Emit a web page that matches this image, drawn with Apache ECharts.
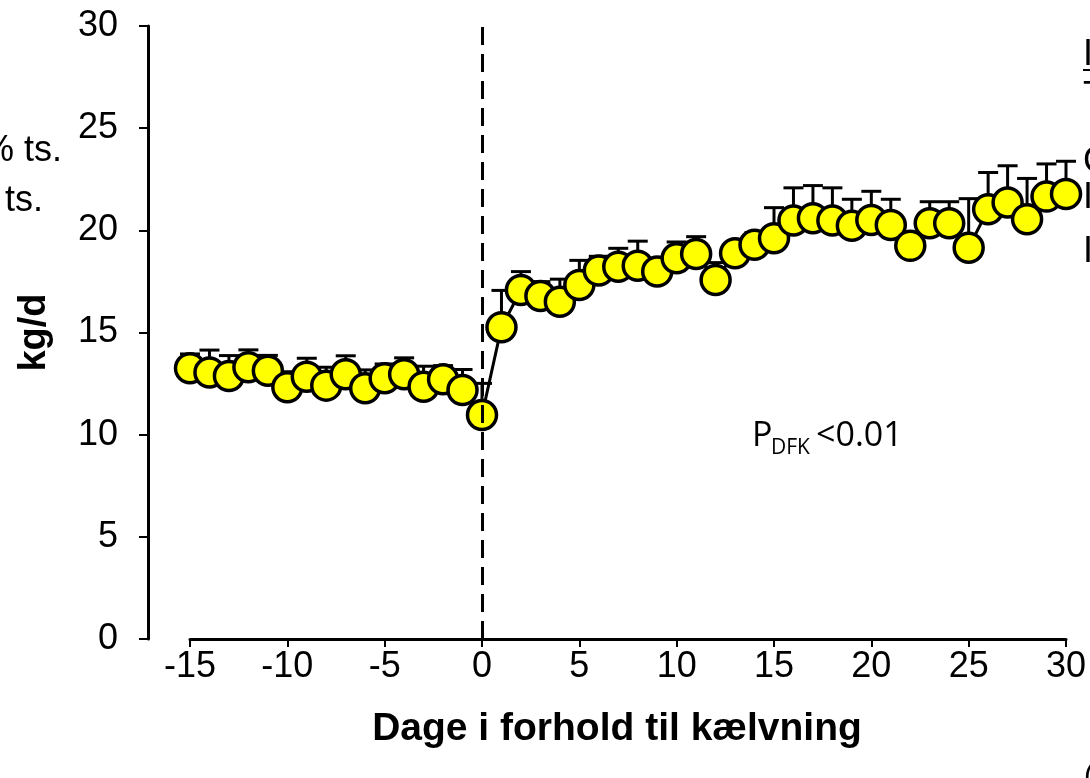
<!DOCTYPE html>
<html>
<head>
<meta charset="utf-8">
<script src="https://cdn.jsdelivr.net/npm/echarts@6/dist/echarts.min.js"></script>
<style>
html,body{margin:0;padding:0;background:#fff;}
#chart{width:1090px;height:778px;}
</style>
</head>
<body>
<div id="chart"></div>
<script>
// Days relative to calving
const days = [-15,-14,-13,-12,-11,-10,-9,-8,-7,-6,-5,-4,-3,-2,-1,0,1,2,3,4,5,6,7,8,9,10,11,12,13,14,15,16,17,18,19,20,21,22,23,24,25,26,27,28,29,30];
// Intake, kg/d
const intake = [13.25,13.04,12.87,13.3,13.13,12.32,12.84,12.4,12.96,12.27,12.76,12.96,12.35,12.71,12.19,10.96,15.26,17.08,16.79,16.51,17.33,18.03,18.22,18.27,17.98,18.63,18.84,17.57,18.88,19.29,19.61,20.48,20.59,20.48,20.22,20.51,20.26,19.24,20.35,20.35,19.15,21.03,21.36,20.54,21.65,21.78];
// Upper error (SE), kg/d
const errUp = [0.7,1.1,1.0,0.85,0.75,0.76,0.9,0.9,0.9,0.9,0.7,0.8,1.0,0.67,1.0,1.55,1.8,0.9,0.7,1.1,1.2,0.7,0.9,1.2,0.35,0.8,0.85,0.85,0.4,0.6,1.5,1.6,1.6,1.6,1.3,1.4,1.26,0.4,1.05,1.05,2.4,1.8,1.8,2.0,1.6,1.6];
const xTicks = {min:-15, max:30, interval:5};
const yTicks = {min:0, max:30, interval:5};
const xTitle = 'Dage i forhold til kælvning';
const yTitle = 'kg/d';

const lineData = days.map((d,i)=>[d, intake[i]]);
const errData = days.map((d,i)=>[d, intake[i], errUp[i]]);

const FONT = 'Liberation Sans, Arial, sans-serif';
const chart = echarts.init(document.getElementById('chart'), null, {renderer:'canvas'});
chart.setOption({
  animation:false,
  backgroundColor:'#ffffff',
  grid:{left:190, right:24, top:26, bottom:139, containLabel:false},
  xAxis:{
    type:'value', min:xTicks.min, max:xTicks.max, interval:xTicks.interval,
    axisLine:{show:true, onZero:false, lineStyle:{color:'#000', width:3}},
    axisTick:{show:true, inside:false, length:8, lineStyle:{color:'#000', width:2}},
    axisLabel:{color:'#000', fontSize:36, fontFamily:FONT, margin:10},
    splitLine:{show:false},
    name:xTitle, nameLocation:'middle', nameGap:71,
    nameTextStyle:{color:'#000', fontSize:39, fontWeight:'bold', fontFamily:FONT, padding:[0,22,0,0]}
  },
  yAxis:{
    type:'value', min:yTicks.min, max:yTicks.max, interval:yTicks.interval, offset:42,
    axisLine:{show:true, onZero:false, lineStyle:{color:'#000', width:3}},
    axisTick:{show:true, inside:false, length:9, lineStyle:{color:'#000', width:2}},
    axisLabel:{color:'#000', fontSize:36, fontFamily:FONT, margin:30},
    splitLine:{show:false},
    name:yTitle, nameLocation:'middle', nameGap:94, nameRotate:90,
    nameTextStyle:{color:'#000', fontSize:38, fontWeight:'bold', fontFamily:FONT}
  },
  series:[
    {
      type:'custom', z:2,
      data:errData,
      encode:{x:0, y:1},
      renderItem:function(params, api){
        const x = api.value(0), y = api.value(1), e = api.value(2);
        const p0 = api.coord([x,y]);
        const p1 = api.coord([x,y+e]);
        return {type:'group', children:[
          {type:'line', shape:{x1:p0[0], y1:p0[1], x2:p1[0], y2:p1[1]}, style:{stroke:'#000', lineWidth:3}},
          {type:'line', shape:{x1:p1[0]-10, y1:p1[1], x2:p1[0]+10, y2:p1[1]}, style:{stroke:'#000', lineWidth:3}}
        ]};
      },
      markLine:{
        silent:true, symbol:['none','none'],
        label:{show:false},
        lineStyle:{color:'#000', width:3, type:[18,9]},
        data:[{xAxis:0}]
      }
    },
    {
      type:'line', z:3,
      data:lineData,
      symbol:'circle', symbolSize:29,
      itemStyle:{color:'#ffff00', borderColor:'#000', borderWidth:3.5},
      lineStyle:{color:'#000', width:3}
    }
  ],
  graphic:[
    {type:'text', left:752, top:419, style:{text:'P', fontSize:34, fontFamily:'Open Sans, sans-serif', fill:'#000'}},
    {type:'text', left:771, top:438, style:{text:'DFK', fontSize:21, fontFamily:'Open Sans, sans-serif', fill:'#000'}},
    {type:'text', left:816, top:419, style:{text:'<0.01', fontSize:34, fontFamily:'Open Sans, sans-serif', fill:'#000'}},
    {type:'text', x:62, y:151, style:{text:'% ts.', fontSize:36, fontFamily:FONT, fill:'#000', align:'right', verticalAlign:'middle'}},
    {type:'text', x:43, y:201, style:{text:'ts.', fontSize:36, fontFamily:FONT, fill:'#000', align:'right', verticalAlign:'middle'}},
    {type:'text', x:1083, y:55, style:{text:'Ingen', fontSize:36, fontFamily:FONT, fill:'#000', verticalAlign:'middle'}},
    {type:'line', shape:{x1:1083, y1:70, x2:1090, y2:70}, style:{stroke:'#000', lineWidth:2}},
    {type:'text', x:1083, y:97, style:{text:'Tilskud', fontSize:36, fontFamily:FONT, fill:'#000', verticalAlign:'middle'}},
    {type:'text', x:1083, y:162, style:{text:'Gruppe', fontSize:36, fontFamily:FONT, fill:'#000', verticalAlign:'middle'}},
    {type:'text', x:1083, y:198, style:{text:'Ingen', fontSize:36, fontFamily:FONT, fill:'#000', verticalAlign:'middle'}},
    {type:'text', x:1083, y:252, style:{text:'Ingen', fontSize:36, fontFamily:FONT, fill:'#000', verticalAlign:'middle'}},
    {type:'text', x:1084, y:762, style:{text:'(Kilde)', fontSize:30, fontFamily:FONT, fill:'#000'}}
  ]
});
</script>
</body>
</html>
